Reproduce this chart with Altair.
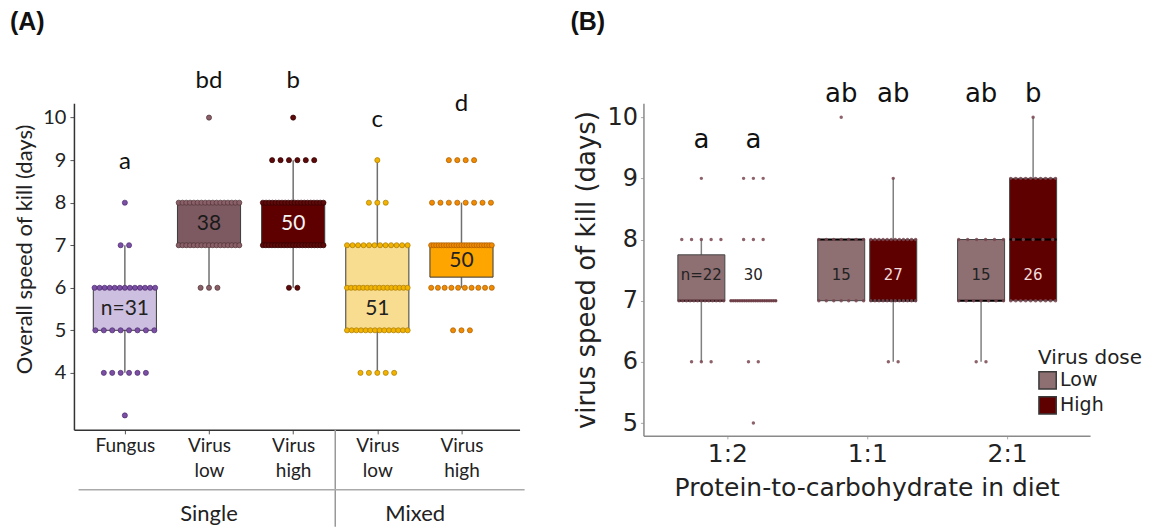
import altair as alt
import numpy as np
import pandas as pd

# ---------------- data ----------------
days = [3, 4, 5, 6, 7, 8, 9, 10]

# Panel A: number of larvae dying on each day, per treatment
a_fungus = [1, 6, 8, 13, 2, 1, 0, 0]
a_virus_low_single = [0, 0, 0, 3, 17, 17, 0, 1]
a_virus_high_single = [0, 0, 0, 2, 21, 20, 6, 1]
a_virus_low_mixed = [0, 5, 14, 16, 12, 3, 1, 0]
a_virus_high_mixed = [0, 0, 3, 10, 25, 8, 4, 0]
a_tick_labels = [["Fungus"], ["Virus", "low"], ["Virus", "high"], ["Virus", "low"], ["Virus", "high"]]
a_n_labels = ["n=31", "38", "50", "51", "50"]
a_letters = ["a", "bd", "b", "c", "d"]
a_groups = ["Single", "Mixed"]

# Panel B: virus speed of kill by diet and dose
b_diets = ["1:2", "1:1", "2:1"]
b_doses = ["Low", "High"]
b_low_12 = [0, 0, 0, 3, 13, 5, 1, 0]
b_high_12 = [0, 0, 1, 2, 21, 3, 3, 0]
b_low_11 = [0, 0, 0, 0, 7, 7, 0, 1]
b_high_11 = [0, 0, 0, 2, 12, 12, 1, 0]
b_low_21 = [0, 0, 0, 2, 7, 6, 0, 0]
b_high_21 = [0, 0, 0, 0, 10, 5, 10, 1]
b_n_labels = ["n=22", "30", "15", "27", "15", "26"]
b_letters = ["a", "a", "ab", "ab", "ab", "b"]

# ---------------- styles / layout ----------------
A_FILL = ["#cdbfdf", "#7d5a62", "#5e0000", "#f8dc8f", "#ffa500"]
A_DOT = ["#7b4fa3", "#8a6068", "#5e0a0a", "#f2b300", "#f08a00"]
A_DOT_STROKE = ["#4d2d70", "#4e3035", "#300000", "#a87a00", "#a85c00"]
A_TXT = ["#222222", "#1a1a1a", "#f4f4f4", "#222222", "#222222"]
A_LABEL_Y = [5.5, 7.5, 7.5, 5.5, 6.62]
A_LETTER_Y = [8.95, 10.85, 10.87, 9.95, 10.33]
B_FILL = ["#8e6f72", "#5e0000"]
B_TXT = ["#222222", "#222222", "#222222", "#f3dcdc", "#222222", "#f3dcdc"]
B_LETTER_Y = [9.62, 9.62, 10.38, 10.38, 10.38, 10.38]
B_LABEL_Y = 7.42


def spread(count, half, step):
    if count == 1:
        return [0.0]
    h = min(half, (count - 1) * step)
    return list(np.linspace(-h, h, count))


def make_points(keys, positions, count_lists, half, step):
    rows = []
    for key, pos, counts in zip(keys, positions, count_lists):
        for d, c in zip(days, counts):
            if c:
                for o in spread(c, half, step):
                    rows.append({"key": key, "pos": pos, "x": pos + o, "value": d})
    return pd.DataFrame(rows)


def make_stats(points, keys, positions, half):
    rows = []
    for key, pos in zip(keys, positions):
        v = points.loc[points.key == key, "value"].to_numpy(dtype=float)
        q1, med, q3 = np.percentile(v, [25, 50, 75])
        iqr = q3 - q1
        lo = v[v >= q1 - 1.5 * iqr].min()
        hi = v[v <= q3 + 1.5 * iqr].max()
        rows.append(dict(key=key, pos=pos, left=pos - half, right=pos + half,
                         q1=q1, med=med, q3=q3, lo=lo, hi=hi))
    return pd.DataFrame(rows)


# ---------------- Panel A ----------------
A_KEYS = ["F", "VLs", "VHs", "VLm", "VHm"]
A_POS = [1, 2, 3, 4, 5]
A_HALF = 0.375
ptsA = make_points(A_KEYS, A_POS,
                   [a_fungus, a_virus_low_single, a_virus_high_single,
                    a_virus_low_mixed, a_virus_high_mixed], 0.36, 0.05)
ptsA["fill"] = ptsA.key.map(dict(zip(A_KEYS, A_DOT)))
ptsA["stroke"] = ptsA.key.map(dict(zip(A_KEYS, A_DOT_STROKE)))
statsA = make_stats(ptsA, A_KEYS, A_POS, A_HALF)
statsA["fill"] = A_FILL
statsA["label"] = a_n_labels
statsA["label_y"] = A_LABEL_Y
statsA["label_color"] = A_TXT
statsA["letter"] = a_letters
statsA["letter_y"] = A_LETTER_Y

xA = alt.Scale(domain=[0.395, 5.69], nice=False, zero=False)
yA = alt.Scale(domain=[2.66, 10.34], nice=False, zero=False)
label_expr_a = "[" + ",".join(
    "[" + ",".join("'" + s + "'" for s in lab) + "]" for lab in a_tick_labels) + "][datum.value - 1]"
axA_x = alt.Axis(values=A_POS, labelExpr=label_expr_a, grid=False, domainColor="#333333",
                 domainWidth=1.5, tickColor="#555555", tickSize=4, labelFont="Lato",
                 labelFontSize=19, labelColor="#222222", labelPadding=3, labelLineHeight=25,
                 labelOverlap=False, title=None)
axA_y = alt.Axis(values=[4, 5, 6, 7, 8, 9, 10], format="d", grid=False, domainColor="#333333",
                 domainWidth=1.5, tickColor="#555555", tickSize=4, labelFont="Lato",
                 labelFontSize=20, labelColor="#222222", labelPadding=4,
                 title="Overall speed of kill (days)", titleFont="Lato", titleFontSize=22,
                 titleFontWeight="normal", titleColor="#222222", titlePadding=6, titleY=146)

whiskA = alt.Chart(statsA).mark_rule(color="#707070", strokeWidth=1.5).encode(
    x=alt.X("pos:Q", scale=xA, axis=axA_x),
    y=alt.Y("lo:Q", scale=yA, axis=axA_y), y2="hi:Q")
boxA = alt.Chart(statsA).mark_rect(stroke="#3a3a3a", strokeWidth=1).encode(
    x=alt.X("left:Q", scale=xA, axis=axA_x), x2="right:Q",
    y=alt.Y("q1:Q", scale=yA, axis=axA_y), y2="q3:Q",
    fill=alt.Fill("fill:N", scale=None))
medA = alt.Chart(statsA).mark_rule(color="black", strokeWidth=2).encode(
    x=alt.X("left:Q", scale=xA, axis=axA_x), x2="right:Q",
    y=alt.Y("med:Q", scale=yA, axis=axA_y))
dotsA = alt.Chart(ptsA).mark_point(filled=True, size=26, opacity=1, strokeWidth=0.7).encode(
    x=alt.X("x:Q", scale=xA, axis=axA_x),
    y=alt.Y("value:Q", scale=yA, axis=axA_y),
    fill=alt.Fill("fill:N", scale=None),
    stroke=alt.Stroke("stroke:N", scale=None))
nA = alt.Chart(statsA).mark_text(font="Lato", fontSize=21, baseline="middle").encode(
    x=alt.X("pos:Q", scale=xA, axis=axA_x),
    y=alt.Y("label_y:Q", scale=yA, axis=axA_y),
    text="label:N", color=alt.Color("label_color:N", scale=None))
lettersA = alt.Chart(statsA).mark_text(font="Lato", fontSize=24, baseline="middle",
                                       color="#111111", clip=False).encode(
    x=alt.X("pos:Q", scale=xA, axis=axA_x),
    y=alt.Y("letter_y:Q", scale=yA, axis=axA_y),
    text="letter:N")

sepA = alt.Chart(pd.DataFrame({"x": [3.5]})).mark_rule(color="#999999", strokeWidth=1.5).encode(
    x=alt.X("x:Q", scale=xA, axis=axA_x), y=alt.value(327), y2=alt.value(424))
hlineA = alt.Chart(pd.DataFrame({"x": [0.45], "x2": [5.75]})).mark_rule(
    color="#aaaaaa", strokeWidth=1.5).encode(
    x=alt.X("x:Q", scale=xA, axis=axA_x), x2="x2:Q", y=alt.value(387))
groupA = alt.Chart(pd.DataFrame({"x": [2.0, 4.45], "t": a_groups})).mark_text(
    font="Lato", fontSize=22, baseline="middle", color="#222222").encode(
    x=alt.X("x:Q", scale=xA, axis=axA_x), y=alt.value(411), text="t:N")
tagA = alt.Chart(pd.DataFrame({"t": ["(A)"]})).mark_text(
    font="Liberation Sans", fontSize=25, fontWeight="bold", align="left",
    baseline="middle", color="#111111").encode(
    x=alt.value(-64), y=alt.value(-81), text="t:N")

chartA = alt.layer(whiskA, boxA, medA, dotsA, nA, lettersA, sepA, hlineA, groupA, tagA).properties(
    width=446, height=327)

# ---------------- Panel B ----------------
B_KEYS = ["L12", "H12", "L11", "H11", "L21", "H21"]
B_DOSE = ["Low", "High"] * 3
B_POS = [1 - 0.186, 1 + 0.186, 2 - 0.186, 2 + 0.186, 3 - 0.186, 3 + 0.186]
B_HALF = 0.168
ptsB = make_points(B_KEYS, B_POS,
                   [b_low_12, b_high_12, b_low_11, b_high_11, b_low_21, b_high_21], 0.16, 0.035)
statsB = make_stats(ptsB, B_KEYS, B_POS, B_HALF)
statsB["dose"] = B_DOSE
statsB["label"] = b_n_labels
statsB["label_y"] = B_LABEL_Y
statsB["label_color"] = B_TXT
statsB["letter"] = b_letters
statsB["letter_y"] = B_LETTER_Y

xB = alt.Scale(domain=[0.4, 3.593], nice=False, zero=False)
yB = alt.Scale(domain=[4.79, 10.23], nice=False, zero=False)
label_expr_b = "[" + ",".join("'" + s + "'" for s in b_diets) + "][datum.value - 1]"
axB_x = alt.Axis(values=[1, 2, 3], labelExpr=label_expr_b, grid=False, domainColor="#8a8a8a",
                 domainWidth=1.5, tickColor="#aaaaaa", tickSize=3, labelFont="DejaVu Sans",
                 labelFontSize=25, labelColor="#222222", labelPadding=3,
                 title="Protein-to-carbohydrate in diet", titleFont="DejaVu Sans",
                 titleFontSize=25, titleFontWeight="normal", titleColor="#222222",
                 titlePadding=9)
axB_y = alt.Axis(values=[5, 6, 7, 8, 9, 10], format="d", grid=False, domainColor="#8a8a8a",
                 domainWidth=1.5, tickColor="#aaaaaa", tickSize=3, labelFont="DejaVu Sans",
                 labelFontSize=24, labelColor="#222222", labelPadding=3,
                 title="virus speed of kill (days)", titleFont="DejaVu Sans", titleFontSize=26,
                 titleFontWeight="normal", titleColor="#222222", titlePadding=7)

whiskB = alt.Chart(statsB).mark_rule(color="#808080", strokeWidth=1.5).encode(
    x=alt.X("pos:Q", scale=xB, axis=axB_x),
    y=alt.Y("lo:Q", scale=yB, axis=axB_y), y2="hi:Q")
boxB = alt.Chart(statsB).mark_rect(stroke="#444444", strokeWidth=1).encode(
    x=alt.X("left:Q", scale=xB, axis=axB_x), x2="right:Q",
    y=alt.Y("q1:Q", scale=yB, axis=axB_y), y2="q3:Q",
    fill=alt.Fill("dose:N", scale=alt.Scale(domain=b_doses, range=B_FILL),
                  legend=alt.Legend(title="Virus dose", orient="none", legendX=965, legendY=245,
                                    titleFont="DejaVu Sans", titleFontSize=20,
                                    titleFontWeight="normal", titleColor="#222222",
                                    titlePadding=3, labelFont="DejaVu Sans", labelFontSize=19,
                                    labelColor="#222222", labelOffset=3, symbolType="square",
                                    symbolSize=300, symbolStrokeColor="#444444",
                                    symbolStrokeWidth=1.5, symbolOpacity=1, rowPadding=0)))
medB = alt.Chart(statsB).mark_rule(color="black", strokeWidth=2).encode(
    x=alt.X("left:Q", scale=xB, axis=axB_x), x2="right:Q",
    y=alt.Y("med:Q", scale=yB, axis=axB_y))
dotsB = alt.Chart(ptsB).mark_circle(size=12, opacity=0.85, color="#7a4650").encode(
    x=alt.X("x:Q", scale=xB, axis=axB_x),
    y=alt.Y("value:Q", scale=yB, axis=axB_y))
nB = alt.Chart(statsB).mark_text(font="DejaVu Sans", fontSize=15, baseline="middle").encode(
    x=alt.X("pos:Q", scale=xB, axis=axB_x),
    y=alt.Y("label_y:Q", scale=yB, axis=axB_y),
    text="label:N", color=alt.Color("label_color:N", scale=None))
lettersB = alt.Chart(statsB).mark_text(font="DejaVu Sans", fontSize=26, baseline="middle",
                                       color="#111111", clip=False).encode(
    x=alt.X("pos:Q", scale=xB, axis=axB_x),
    y=alt.Y("letter_y:Q", scale=yB, axis=axB_y),
    text="letter:N")
tagB = alt.Chart(pd.DataFrame({"t": ["(B)"]})).mark_text(
    font="Liberation Sans", fontSize=25, fontWeight="bold", align="left",
    baseline="middle", color="#111111").encode(
    x=alt.value(-73), y=alt.value(-81), text="t:N")

chartB = alt.layer(whiskB, boxB, medB, dotsB, nB, lettersB, tagB).properties(
    width=447, height=333)

chart = alt.hconcat(chartA, chartB, spacing=45).properties(
    padding={"left": 2, "top": 2, "right": 0, "bottom": 0}
).configure_view(stroke=None)

chart.save("out.html", embed_options={"renderer": "svg", "actions": False})
